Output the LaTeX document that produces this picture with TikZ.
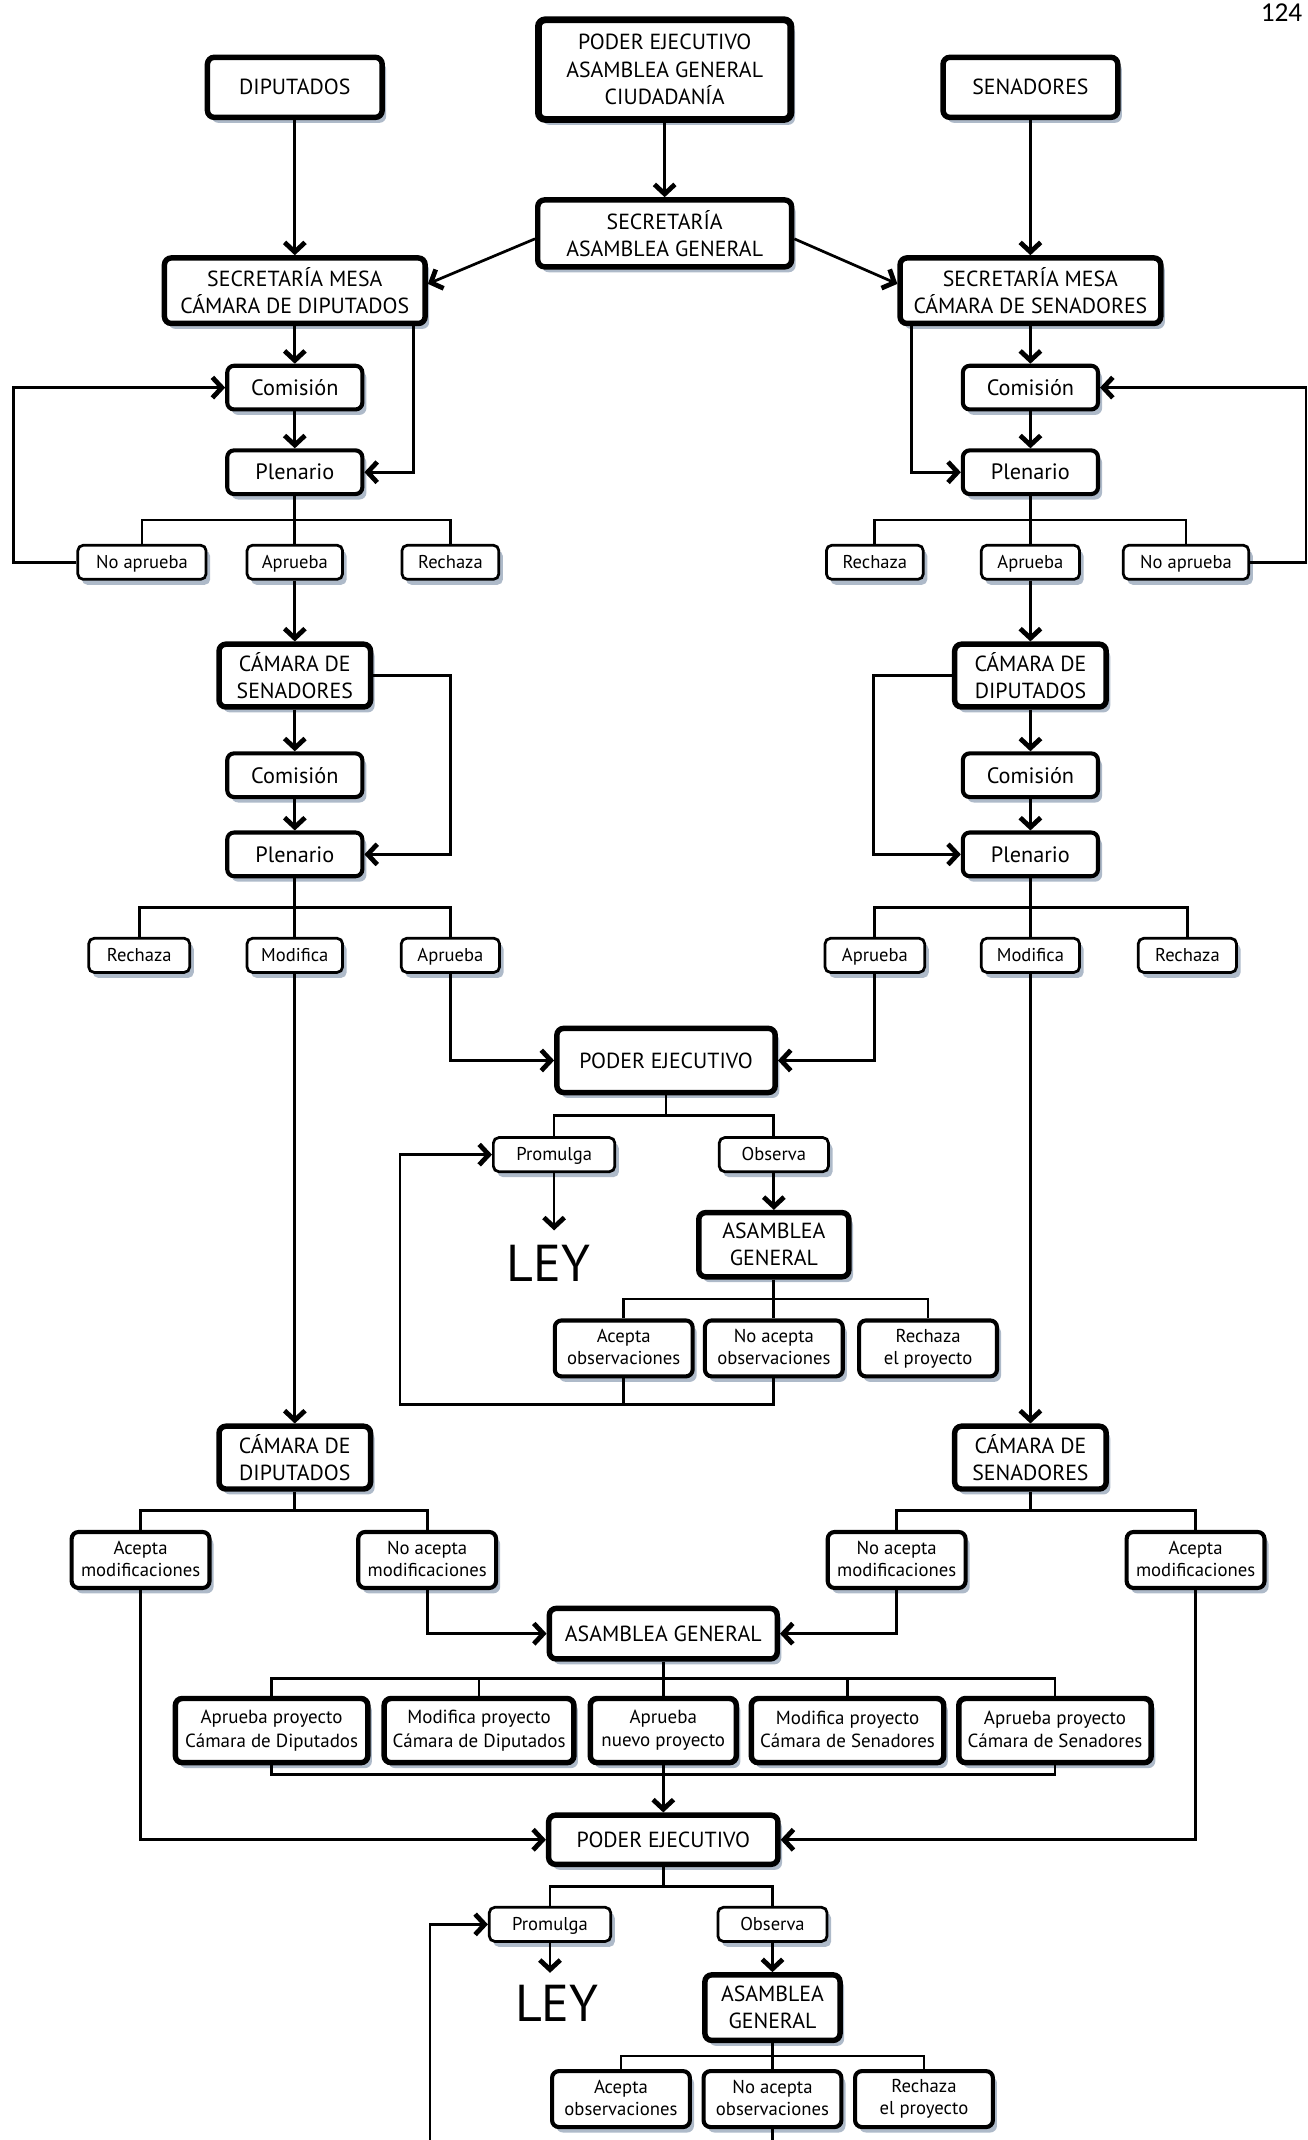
\documentclass[tikz,border=0pt]{standalone}
\usepackage{fontspec}
\setmainfont{PT Sans}
\newfontfamily\paginafont{Carlito}
\usepackage{tikz}
\usetikzlibrary{
    arrows.meta,
    calc,
    shadows
}
\definecolor{sombra}{rgb}{0.55, 0.61, 0.70}
\tikzstyle{caja} = [
    rectangle,
    rounded corners=5pt,
    draw=black,
    fill=white,
    align=center,
    inner sep=1pt,
    drop shadow={shadow xshift=3pt, shadow yshift=-4pt, fill=sombra, opacity=0.7}
]
\tikzstyle{organo} = [
    caja,
    line width=4pt,
    font=\fontsize{16}{20}\selectfont
]
\tikzstyle{etapa} = [
    caja,
    line width=3pt,
    minimum width=99pt,
    minimum height=32pt,
    font=\fontsize{16.3}{20}\selectfont
]
\tikzstyle{opcion} = [
    caja,
    rounded corners=4pt,
    line width=2pt,
    minimum height=25pt,
    text height=10.5pt,
    text depth=2pt,
    font=\fontsize{13.6}{16}\selectfont
]
\tikzstyle{resultado} = [
    caja,
    line width=3pt,
    minimum width=101pt,
    minimum height=41pt,
    execute at begin node={\rule{0pt}{11pt}},
    execute at end node={\rule[-2pt]{0pt}{2pt}},
    font=\fontsize{13.7}{16}\selectfont
]
\tikzstyle{proyecto} = [
    caja,
    line width=4pt,
    minimum width=141pt,
    minimum height=47pt,
    execute at begin node={\rule{0pt}{11pt}},
    execute at end node={\rule[-2pt]{0pt}{2pt}},
    font=\fontsize{13.9}{17}\selectfont
]
\tikzstyle{camara} = [
    organo,
    minimum width=111pt,
    minimum height=46pt
]
\tikzstyle{ley} = [
    inner sep=0pt,
    font=\fontsize{38}{38}\selectfont
]
\tikzstyle{linea} = [
    line width=2pt
]
\tikzstyle{flecha} = [
    linea,
    -{Straight Barb[length=7pt, width=15pt, line width=3.5pt]}
]

\begin{document}
\begin{tikzpicture}[x=1pt, y=-1pt]
    \useasboundingbox (0,0) rectangle (958,1568);

    % Page number
    \node[font=\paginafont\fontsize{20}{20}\selectfont] (pagina) at (939,9) {124};

    % Origin of the bill
    \node[organo, minimum width=128pt, minimum height=44pt] (dip) at (216,64) {DIPUTADOS};
    \node[organo, line width=5pt, minimum width=185pt, minimum height=73pt] (pe0) at (487,51) {PODER EJECUTIVO\\ASAMBLEA GENERAL\\CIUDADANÍA};
    \node[organo, minimum width=128pt, minimum height=44pt] (sen) at (755,64) {SENADORES};

    % Secretarias
    \node[organo, minimum width=186pt, minimum height=49pt] (secAG) at (487,171) {SECRETARÍA\\ASAMBLEA GENERAL};
    \node[organo, minimum width=191pt, minimum height=48pt] (secD) at (216,213) {SECRETARÍA MESA\\CÁMARA DE DIPUTADOS};
    \node[organo, minimum width=191pt, minimum height=48pt] (secS) at (755,213) {SECRETARÍA MESA\\CÁMARA DE SENADORES};

    % First chamber, left side
    \node[etapa] (comD1) at (216,284) {Comisión};
    \node[etapa] (plenD1) at (216,346) {Plenario};
    \node[opcion, minimum width=94pt] (noapD) at (104,412) {No aprueba};
    \node[opcion, minimum width=70pt] (aprD1) at (216,412) {Aprueba};
    \node[opcion, minimum width=71pt] (recD1) at (330,412) {Rechaza};

    % Second chamber, left side
    \node[camara] (camS1) at (216,495) {CÁMARA DE\\SENADORES};
    \node[etapa] (comD2) at (216,568) {Comisión};
    \node[etapa] (plenD2) at (216,626) {Plenario};
    \node[opcion, minimum width=74pt] (recD2) at (102,700) {Rechaza};
    \node[opcion, minimum width=70pt] (modD) at (216,700) {Modifica};
    \node[opcion, minimum width=72pt] (aprD2) at (330,700) {Aprueba};

    % First chamber, right side
    \node[etapa] (comS1) at (755,284) {Comisión};
    \node[etapa] (plenS1) at (755,346) {Plenario};
    \node[opcion, minimum width=71pt] (recS1) at (641,412) {Rechaza};
    \node[opcion, minimum width=72pt] (aprS1) at (755,412) {Aprueba};
    \node[opcion, minimum width=92pt] (noapS) at (869,412) {No aprueba};

    % Second chamber, right side
    \node[camara] (camD1) at (755,495) {CÁMARA DE\\DIPUTADOS};
    \node[etapa] (comS2) at (755,568) {Comisión};
    \node[etapa] (plenS2) at (755,626) {Plenario};
    \node[opcion, minimum width=73pt] (aprS2) at (641,700) {Aprueba};
    \node[opcion, minimum width=72pt] (modS) at (755,700) {Modifica};
    \node[opcion, minimum width=72pt] (recS2) at (870,700) {Rechaza};

    % Executive, first time
    \node[organo, minimum width=160pt, minimum height=47pt] (pe1) at (488,777) {PODER EJECUTIVO};
    \node[opcion, minimum width=89pt] (prom1) at (406,846) {Promulga};
    \node[opcion, minimum width=80pt] (obs1) at (567,846) {Observa};
    \node[ley] (ley1) at (402,926) {LEY};
    \node[organo, minimum width=110pt, minimum height=47pt] (ag1) at (567,912) {ASAMBLEA\\GENERAL};
    \node[resultado] (aceO1) at (457,988) {Acepta\\observaciones};
    \node[resultado] (noO1) at (567,988) {No acepta\\observaciones};
    \node[resultado] (recO1) at (680,988) {Rechaza\\el proyecto};

    % Revising chambers
    \node[camara] (camD2) at (216,1068) {CÁMARA DE\\DIPUTADOS};
    \node[camara] (camS2) at (755,1068) {CÁMARA DE\\SENADORES};
    \node[resultado] (aceMD) at (103,1143) {Acepta\\modificaciones};
    \node[resultado] (noMD) at (313,1143) {No acepta\\modificaciones};
    \node[resultado] (noMS) at (657,1143) {No acepta\\modificaciones};
    \node[resultado] (aceMS) at (876,1143) {Acepta\\modificaciones};

    % General Assembly
    \node[organo, minimum width=167pt, minimum height=37pt] (ag2) at (486,1197) {ASAMBLEA GENERAL};
    \node[proyecto] (p1) at (199,1268) {Aprueba proyecto\\Cámara de Diputados};
    \node[proyecto, minimum width=139pt] (p2) at (351,1268) {Modifica proyecto\\Cámara de Diputados};
    \node[proyecto, minimum width=107pt] (p3) at (486,1268) {Aprueba\\nuevo proyecto};
    \node[proyecto] (p4) at (621,1268) {Modifica proyecto\\Cámara de Senadores};
    \node[proyecto] (p5) at (773,1268) {Aprueba proyecto\\Cámara de Senadores};

    % Executive, second time
    \node[organo, minimum width=168pt, minimum height=36pt] (pe2) at (486,1348) {PODER EJECUTIVO};
    \node[opcion, minimum width=89pt] (prom2) at (403,1410) {Promulga};
    \node[opcion, minimum width=80pt] (obs2) at (566,1410) {Observa};
    \node[ley] (ley2) at (408,1468) {LEY};
    \node[organo, minimum width=99pt, minimum height=48pt] (ag3) at (566,1471) {ASAMBLEA\\GENERAL};
    \node[resultado] (aceO2) at (455,1538) {Acepta\\observaciones};
    \node[resultado] (noO2) at (566,1538) {No acepta\\observaciones};
    \node[resultado] (recO2) at (677,1538) {Rechaza\\el proyecto};

    % Bends of the long connectors
    \coordinate (dipR) at (303,300);
    \coordinate (senL) at (668,300);
    \coordinate (bordeIzq) at (10,350);
    \coordinate (bordeDer) at (957,350);
    \coordinate (lazoD) at (330,560);
    \coordinate (lazoS) at (640,560);
    \coordinate (retorno1) at (293,1029);
    \coordinate (union) at (486,1300);
    \coordinate (retorno2) at (315,1568);

    % Branch bars
    \coordinate (bPlenD1) at ($(plenD1.south)!.5!(plenD1.south |- aprD1.north)$);
    \coordinate (bPlenD2) at ($(plenD2.south)!.5!(plenD2.south |- modD.north)$);
    \coordinate (bPlenS1) at ($(plenS1.south)!.5!(plenS1.south |- aprS1.north)$);
    \coordinate (bPlenS2) at ($(plenS2.south)!.5!(plenS2.south |- modS.north)$);
    \coordinate (bPe1) at ($(pe1.south)!.5!(pe1.south |- prom1.north)$);
    \coordinate (bAg1) at ($(ag1.south)!.5!(ag1.south |- noO1.north)$);
    \coordinate (bCamD2) at ($(camD2.south)!.5!(camD2.south |- aceMD.north)$);
    \coordinate (bCamS2) at ($(camS2.south)!.5!(camS2.south |- aceMS.north)$);
    \coordinate (bAg2) at ($(ag2.south)!.5!(ag2.south |- p3.north)$);
    \coordinate (bPe2) at ($(pe2.south)!.5!(pe2.south |- prom2.north)$);
    \coordinate (bAg3) at ($(ag3.south)!.5!(ag3.south |- noO2.north)$);

    % Arrows, top
    \draw[flecha] (dip.south) -- (secD.north);
    \draw[flecha] (pe0.south) -- (secAG.north);
    \draw[flecha] (sen.south) -- (secS.north);
    \draw[flecha] ([yshift=-4pt]secAG.west) -- ([yshift=5pt]secD.east);
    \draw[flecha] ([yshift=-4pt]secAG.east) -- ([yshift=5pt]secS.west);

    % Left column
    \draw[flecha] (secD.south) -- (comD1.north);
    \draw[flecha] (comD1.south) -- (plenD1.north);
    \draw[flecha] (secD.south -| dipR) |- (plenD1.east);
    \draw[linea] (plenD1.south) -- (aprD1.north);
    \draw[linea] (noapD.north) |- (bPlenD1) -| (recD1.north);
    \draw[flecha] (noapD.west) -| (bordeIzq) |- (comD1.west);
    \draw[flecha] (aprD1.south) -- (camS1.north);
    \draw[flecha] (camS1.south) -- (comD2.north);
    \draw[flecha] (comD2.south) -- (plenD2.north);
    \draw[flecha] (camS1.east) -| (lazoD) |- (plenD2.east);
    \draw[linea] (plenD2.south) -- (modD.north);
    \draw[linea] (recD2.north) |- (bPlenD2) -| (aprD2.north);
    \draw[flecha] (aprD2.south) |- (pe1.west);
    \draw[flecha] (modD.south) -- (camD2.north);

    % Right column
    \draw[flecha] (secS.south) -- (comS1.north);
    \draw[flecha] (comS1.south) -- (plenS1.north);
    \draw[flecha] (secS.south -| senL) |- (plenS1.west);
    \draw[linea] (plenS1.south) -- (aprS1.north);
    \draw[linea] (recS1.north) |- (bPlenS1) -| (noapS.north);
    \draw[flecha] (noapS.east) -| (bordeDer) |- (comS1.east);
    \draw[flecha] (aprS1.south) -- (camD1.north);
    \draw[flecha] (camD1.south) -- (comS2.north);
    \draw[flecha] (comS2.south) -- (plenS2.north);
    \draw[flecha] (camD1.west) -| (lazoS) |- (plenS2.west);
    \draw[linea] (plenS2.south) -- (modS.north);
    \draw[linea] (aprS2.north) |- (bPlenS2) -| (recS2.north);
    \draw[flecha] (aprS2.south) |- (pe1.east);
    \draw[flecha] (modS.south) -- (camS2.north);

    % Executive, first time
    \draw[linea] (pe1.south) -- (bPe1);
    \draw[linea] (prom1.north) |- (bPe1) -| (obs1.north);
    \draw[flecha] (prom1.south) -- ([yshift=11pt]prom1.south |- ley1.north);
    \draw[flecha] (obs1.south) -- (ag1.north);
    \draw[linea] (ag1.south) -- (noO1.north);
    \draw[linea] (aceO1.north) |- (bAg1) -| (recO1.north);
    \draw[linea] (aceO1.south) -- (aceO1.south |- retorno1);
    \draw[flecha] (noO1.south) |- (retorno1) |- (prom1.west);

    % Revising chambers
    \draw[linea] (camD2.south) -- (bCamD2);
    \draw[linea] (aceMD.north) |- (bCamD2) -| (noMD.north);
    \draw[linea] (camS2.south) -- (bCamS2);
    \draw[linea] (noMS.north) |- (bCamS2) -| (aceMS.north);
    \draw[flecha] (noMD.south) |- (ag2.west);
    \draw[flecha] (noMS.south) |- (ag2.east);
    \draw[flecha] (aceMD.south) |- (pe2.west);
    \draw[flecha] (aceMS.south) |- (pe2.east);

    % General Assembly
    \draw[linea] (ag2.south) -- (p3.north);
    \draw[linea] (p1.north) |- (bAg2) -| (p5.north);
    \draw[linea] (p2.north) -- (p2.north |- bAg2);
    \draw[linea] (p4.north) -- (p4.north |- bAg2);
    \draw[linea] (p1.south) |- (union) -| (p5.south);
    \draw[flecha] (p3.south) -- (pe2.north);

    % Executive, second time
    \draw[linea] (pe2.south) -- (bPe2);
    \draw[linea] (prom2.north) |- (bPe2) -| (obs2.north);
    \draw[flecha] (prom2.south) -- ([yshift=9pt]prom2.south |- ley2.north);
    \draw[flecha] (obs2.south) -- (ag3.north);
    \draw[linea] (ag3.south) -- (noO2.north);
    \draw[linea] (aceO2.north) |- (bAg3) -| (recO2.north);
    \draw[linea] (noO2.south) -- (noO2.south |- retorno2);
    \draw[flecha] (retorno2) |- (prom2.west);
\end{tikzpicture}
\end{document}
